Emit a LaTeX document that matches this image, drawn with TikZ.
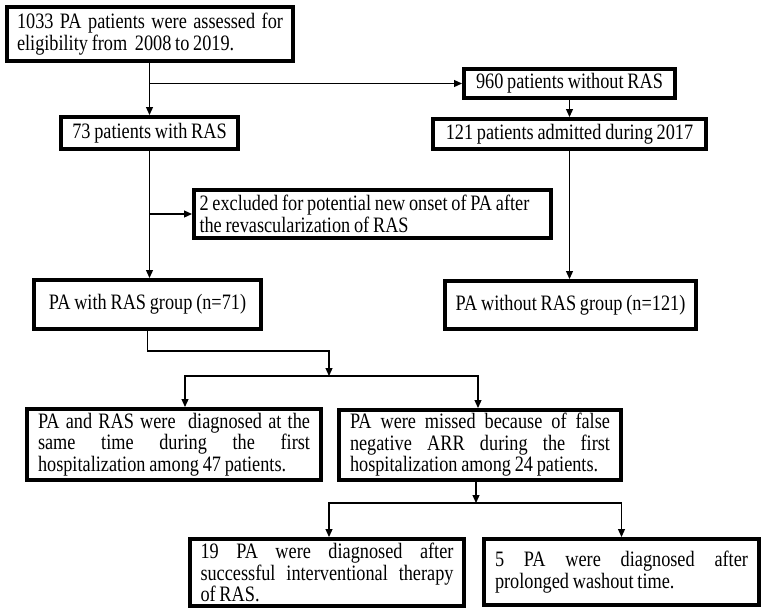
\documentclass[tikz,border=0pt]{standalone}
\usepackage{fontspec}
\setmainfont{Liberation Serif}[FakeStretch=0.83, WordSpace=0.83]
\usetikzlibrary{arrows.meta}
\hyphenpenalty=10000
\tolerance=10000
\hbadness=10000

\tikzset{
    box/.style={draw, line width=3.6pt, inner sep=0pt, font=\fontsize{22}{21.5}\selectfont},
    link/.style={line width=1.2pt, ->}
}

\begin{document}
\begin{tikzpicture}[x=1pt, y=-1pt, >={Triangle[length=8pt,width=7pt]}]
        \fill[white] (0,0) rectangle (765,614);
        \useasboundingbox (0,0) rectangle (765,614);

        % boxes
        \node[box, minimum width=286.4pt, minimum height=54.4pt, text width=266pt, align=justify] (all) at (150, 34)
            {1033 PA patients were assessed for\linebreak eligibility from \ 2008 to 2019.};
        \node[box, minimum width=177.4pt, minimum height=32.4pt] (ras) at (149.5, 133) {73 patients with RAS};
        \node[box, minimum width=211.4pt, minimum height=29.4pt] (noras) at (569.5, 83.5) {960 patients without RAS};
        \node[box, minimum width=273.4pt, minimum height=30.4pt] (adm) at (569.5, 134) {121 patients admitted during 2017};
        \node[box, minimum width=357.4pt, minimum height=48.4pt, text width=346pt, align=justify] (excl) at (372.5, 214)
            {2 excluded for potential new onset of PA after\\ the revascularization of RAS};
        \node[box, minimum width=227.4pt, minimum height=49.4pt] (grpa) at (147.5, 304.5) {PA with RAS group (n=71)};
        \node[box, minimum width=251.4pt, minimum height=48.4pt] (grpb) at (570.5, 305) {PA without RAS group (n=121)};
        \node[box, minimum width=294.4pt, minimum height=71.4pt, text width=272pt, align=justify] (same) at (174, 444.5)
            {PA and RAS were \ diagnosed at the\linebreak same time during the first\linebreak hospitalization among 47 patients.};
        \node[box, minimum width=282.4pt, minimum height=70.4pt, text width=260pt, align=justify] (miss) at (480, 445)
            {PA were missed because of false\linebreak negative ARR during the first\linebreak hospitalization among 24 patients.};
        \node[box, minimum width=274.4pt, minimum height=67.4pt, text width=253pt, align=justify] (intv) at (327, 572.5)
            {19 PA were diagnosed after\linebreak successful interventional therapy\linebreak of RAS.};
        \node[box, minimum width=275.4pt, minimum height=66.4pt, text width=253pt, align=justify] (wash) at (621.5, 572)
            {5 PA were diagnosed after\linebreak prolonged washout time.};

        % connectors
        \draw[link] (ras.north |- all.south) -- (ras.north);
        \draw[link] (ras.north |- noras.west) -- (noras.west);
        \draw[link] (noras) -- (adm);
        \draw[link] (adm.south) -- (adm.south |- grpb.north);
        \draw[link] (ras.south) -- (ras.south |- grpa.north);
        \draw[link] (ras.south |- excl.west) -- (excl.west);

        \coordinate (split1) at (329, 376);
        \draw[link] (grpa.south) -- ++(0,20) -| (split1);
        \draw[link] (split1) -| ([xshift=11pt]same.north);
        \draw[link] (split1) -| ([xshift=-2pt]miss.north);

        \coordinate (split2) at (476, 503);
        \draw[link] (split2 |- miss.south) -- (split2);
        \draw[link] (split2) -| ([xshift=2pt]intv.north);
        \draw[link] (split2) -| (wash.north);
\end{tikzpicture}
\end{document}
